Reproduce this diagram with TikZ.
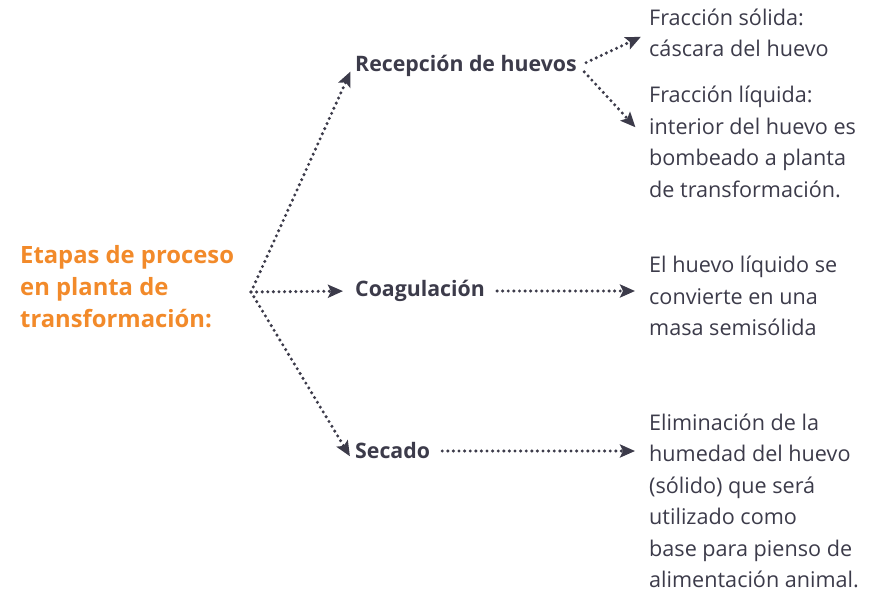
\documentclass[tikz,border=0pt]{standalone}
\usepackage{fontspec}
\setmainfont{Open Sans}
\usetikzlibrary{arrows.meta,positioning}
\definecolor{ink}{HTML}{3C3B4A}
\definecolor{naranja}{HTML}{F28A2A}

\begin{document}
\begin{tikzpicture}[
							x=1pt,
							y=-1pt,
							flecha/.style={ink, line width=3.4pt, line cap=round, dash pattern=on 0pt off 5.6pt, -{Stealth[length=15pt,width=13pt,inset=3pt]}},
							titulo/.style={anchor=west, inner sep=0pt, align=left, text=naranja, font=\fontsize{23.8}{32}\selectfont\bfseries},
							etapa/.style={anchor=west, inner sep=2pt, text=ink, font=\fontsize{21.3}{24}\selectfont\bfseries},
							detalle/.style={anchor=west, inner sep=0pt, align=left, text=ink, font=\fontsize{21.6}{31.5}\selectfont}
						]
						\useasboundingbox (0,0) rectangle (880,594);
						\node[titulo] (tit) at (20,287) {Etapas de proceso\\en planta de\\transformación:};
						\coordinate (fork) at (251,292);
						\node[etapa] (rec) at (353,66) {Recepción de huevos};
						\node[etapa] (coa) at (353,291) {Coagulación};
						\node[etapa] (sec) at (353,451) {Secado};
						\node[detalle] (sol) at (649,33) {Fracción sólida:\\cáscara del huevo};
						\node[detalle] (liq) at (649,142) {Fracción líquida:\\interior del huevo es\\bombeado a planta\\de transformación.};
						\node[detalle] (mas) at (649,296) {El huevo líquido se\\convierte en una\\masa semisólida};
						\node[detalle] (eli) at (649,501) {Eliminación de la\\humedad del huevo\\(sólido) que será\\utilizado como\\base para pienso de\\alimentación animal.};
						% etapas
						\draw[flecha, shorten >=6pt] (fork) -- (rec.west);
						\draw[flecha, shorten >=10pt] (fork) -- (coa.west);
						\draw[flecha, shorten >=6pt] (fork) -- (sec.south west);
						% resultados
						\draw[flecha, shorten <=8pt, shorten >=9pt] (rec.east) -- (sol.west);
						\draw[flecha, shorten <=8pt, shorten >=20pt] (rec.east) -- (liq.west);
						\draw[flecha, shorten <=10pt, shorten >=14pt] (coa.east) -- (coa.east -| mas.west);
						\draw[flecha, shorten <=10pt, shorten >=14pt] (sec.east) -- (sec.east -| eli.west);
					\end{tikzpicture}
\end{document}
